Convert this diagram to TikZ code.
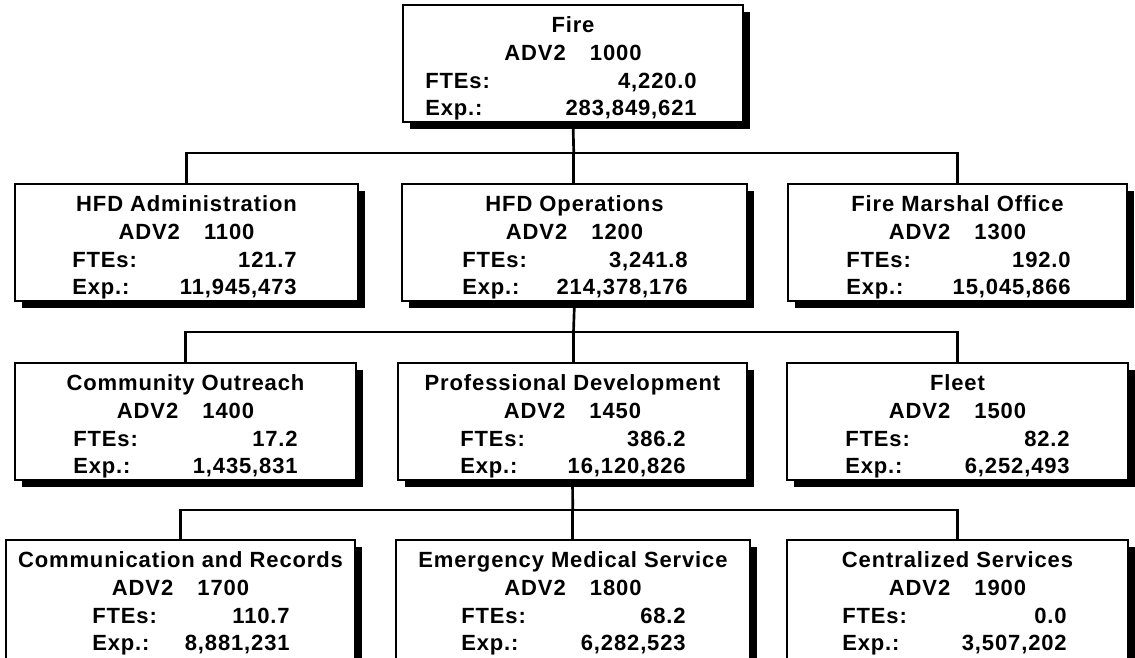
\documentclass[tikz,border=0pt]{standalone}
\usepackage{fontspec}
\setmainfont{Liberation Sans}[LetterSpace=4]
\usepackage{tikz}
\usetikzlibrary{calc, shadows, positioning}
\newdimen\px \px=0.75pt
\tikzset{
	unit/.style={rectangle, draw=black, line width=1.5pt, fill=white, inner sep=0pt, outer sep=0pt, minimum height=117\px, drop shadow={shadow xshift=5.5pt, shadow yshift=-5.5pt, fill=black, opacity=1}},
	txt/.style={inner sep=0pt, font=\fontsize{16.5pt}{20pt}\selectfont\bfseries},
	bus/.style={line width=2pt, black},
}
% one unit box: name, top left, width, title, code, FTEs, Exp., label x, value x
\newcommand{\orgunit}[9]{%
	\node[unit, anchor=north west, minimum width=#3\px] (#1) at (#2) {};
	\node[txt, anchor=base] (#1-t) at ($(#1.north)+(0,27)$) {#4};
	\node[txt, anchor=base] (#1-c) at ($(#1.north)+(0,55)$) {ADV2\hspace{1.1em}#5};
	\node[txt, anchor=base west] (#1-fl) at ($(#1.north west)+(#8,83)$) {FTEs:};
	\node[txt, anchor=base east] (#1-fv) at ($(#1.north west)+(#9,83)$) {#6};
	\node[txt, anchor=base west] (#1-el) at ($(#1.north west)+(#8,110)$) {Exp.:};
	\node[txt, anchor=base east] (#1-ev) at ($(#1.north west)+(#9,110)$) {#7};
}

\begin{document}
\begin{tikzpicture}[x=0.75pt, y=-0.75pt]
	\useasboundingbox (0,0) rectangle (1135,657);
	% department
	\orgunit{fire}{403,5}{340}{Fire}{1000}{4,220.0}{283,849,621}{22}{294}
	% divisions
	\orgunit{adm}{15,184}{343}{HFD Administration}{1100}{121.7}{11,945,473}{57}{282}
	\orgunit{ops}{402,184}{345}{HFD Operations}{1200}{3,241.8}{214,378,176}{60}{286}
	\orgunit{fmo}{788,184}{339}{Fire Marshal Office}{1300}{192.0}{15,045,866}{58}{283}
	% sections under operations
	\orgunit{cor}{15,363}{341}{Community Outreach}{1400}{17.2}{1,435,831}{58}{283}
	\orgunit{pdv}{398,363}{349}{Professional Development}{1450}{386.2}{16,120,826}{62}{288}
	\orgunit{flt}{787,363}{341}{Fleet}{1500}{82.2}{6,252,493}{58}{283}
	% sections under professional development
	\begin{scope}[unit/.append style={minimum height=130\px}]
		\orgunit{cmr}{6,540}{349}{Communication and Records}{1700}{110.7}{8,881,231}{86}{284}
		\orgunit{ems}{396,540}{354}{Emergency Medical Service}{1800}{68.2}{6,282,523}{65}{290}
		\orgunit{csv}{787,540}{341}{Centralized Services}{1900}{0.0}{3,507,202}{55}{280}
	\end{scope}
	% connectors
	\coordinate (b1) at ($(fire.south)!0.5!(ops.north)$);
	\draw[bus] (fire.south) -- (b1);
	\draw[bus] (adm.north) |- (b1) -| (fmo.north);
	\draw[bus] (b1) -- (b1 |- ops.north);
	\coordinate (b2) at ($(ops.south)!0.5!(pdv.north)$);
	\draw[bus] (ops.south) -- (b2);
	\draw[bus] (cor.north) |- (b2) -| (flt.north);
	\draw[bus] (b2) -- (b2 |- pdv.north);
	\coordinate (b3) at ($(pdv.south)!0.5!(ems.north)$);
	\draw[bus] (pdv.south) -- (b3);
	\draw[bus] (cmr.north) |- (b3) -| (csv.north);
	\draw[bus] (b3) -- (b3 |- ems.north);
\end{tikzpicture}
\end{document}
